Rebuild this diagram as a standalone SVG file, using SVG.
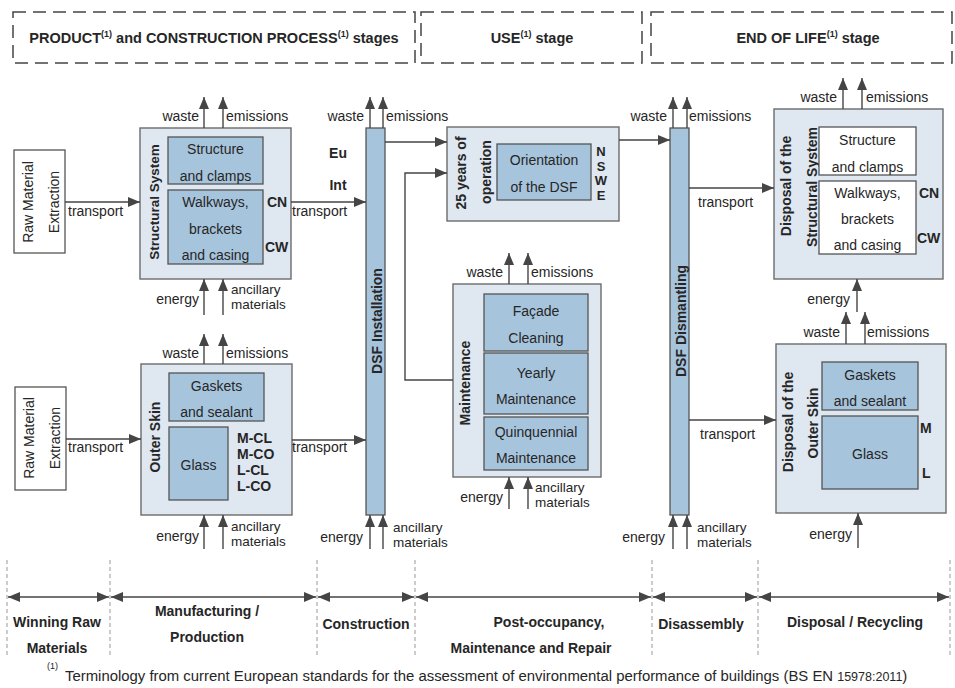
<svg xmlns="http://www.w3.org/2000/svg" width="955" height="688" viewBox="0 0 955 688">
<defs>
<style>
.t{font-family:"Liberation Sans",Arial,sans-serif;font-size:14px;fill:#262626}
.b{font-weight:bold}
.c{text-anchor:middle}
.e{text-anchor:end}
.s{font-size:13.5px}
.sup{font-size:9px}
.h{font-size:14.5px}
.ob{fill:#dfe7f1;stroke:#6b6b6b;stroke-width:1.4}
.ib{fill:#a7c4dd;stroke:#555;stroke-width:1.3}
.wb{fill:#fff;stroke:#555;stroke-width:1.3}
.ln{stroke:#454545;stroke-width:1.4;fill:none}
.ar{marker-end:url(#ah)}
.da{marker-start:url(#ah);marker-end:url(#ah)}
.hd{fill:none;stroke:#444;stroke-width:1.5;stroke-dasharray:13 7}
.vd{stroke:#999;stroke-width:1;stroke-dasharray:4 3}
</style>
<marker id="ah" viewBox="0 0 12 10" refX="12" refY="5" markerWidth="12" markerHeight="10" markerUnits="userSpaceOnUse" orient="auto-start-reverse">
<path d="M0,0 L12,5 L0,10 z" fill="#454545"/>
</marker>
</defs>
<rect width="955" height="688" fill="#fff"/>

<g id="headers">
<rect class="hd" x="13" y="12" width="402" height="51"/>
<rect class="hd" x="421" y="12" width="221" height="51"/>
<rect class="hd" x="651" y="12" width="301" height="51"/>
<text class="t b c h" x="214" y="43">PRODUCT<tspan class="sup" dy="-6">(1)</tspan><tspan dy="6"> and CONSTRUCTION PROCESS</tspan><tspan class="sup" dy="-6">(1)</tspan><tspan dy="6"> stages</tspan></text>
<text class="t b c h" x="532" y="43">USE<tspan class="sup" dy="-6">(1)</tspan><tspan dy="6"> stage</tspan></text>
<text class="t b c h" x="808" y="43">END OF LIFE<tspan class="sup" dy="-6">(1)</tspan><tspan dy="6"> stage</tspan></text>
</g>

<g id="raw1">
<rect x="14" y="150" width="51" height="103" fill="#fff" stroke="#555" stroke-width="1.3"/>
<text class="t c" transform="translate(33,202) rotate(-90)">Raw Material</text>
<text class="t c" transform="translate(59,202) rotate(-90)">Extraction</text>
</g>

<g id="raw2">
<rect x="15" y="387" width="51" height="103" fill="#fff" stroke="#555" stroke-width="1.3"/>
<text class="t c" transform="translate(34,438) rotate(-90)">Raw Material</text>
<text class="t c" transform="translate(60,438) rotate(-90)">Extraction</text>
</g>

<g id="structural-system">
<rect class="ob" x="140" y="128" width="151" height="151"/>
<text class="t b c" style="font-size:13.5px" transform="translate(159,202) rotate(-90)">Structural System</text>
<rect class="ib" x="168" y="137" width="95" height="47"/>
<text class="t c" x="215.5" y="154">Structure</text>
<text class="t c" x="215.5" y="181">and clamps</text>
<rect class="ib" x="168" y="190" width="95" height="74"/>
<text class="t c" x="215.5" y="207">Walkways,</text>
<text class="t c" x="215.5" y="234">brackets</text>
<text class="t c" x="215.5" y="260">and casing</text>
<text class="t b" x="267" y="207">CN</text>
<text class="t b" x="265" y="252">CW</text>
</g>

<g id="outer-skin">
<rect class="ob" x="141" y="364" width="151" height="151"/>
<text class="t b c" transform="translate(160,437) rotate(-90)">Outer Skin</text>
<rect class="ib" x="169" y="373" width="95" height="48"/>
<text class="t c" x="216.5" y="391">Gaskets</text>
<text class="t c" x="216.5" y="417">and sealant</text>
<rect class="ib" x="169" y="427" width="59" height="73"/>
<text class="t c" x="198.5" y="470">Glass</text>
<text class="t b" x="237" y="443">M-CL</text>
<text class="t b" x="237" y="459">M-CO</text>
<text class="t b" x="237" y="475">L-CL</text>
<text class="t b" x="237" y="491">L-CO</text>
</g>

<g id="dsf-installation">
<rect class="ib" x="366" y="128" width="19" height="387"/>
<text class="t b c" transform="translate(382,321) rotate(-90)">DSF Installation</text>
<text class="t b c" x="338" y="158">Eu</text>
<text class="t b c" x="338" y="190">Int</text>
</g>

<g id="operation">
<rect class="ob" x="447" y="127" width="172" height="94"/>
<text class="t b c" transform="translate(466,173) rotate(-90)">25 years of</text>
<text class="t b c" transform="translate(491,172) rotate(-90)">operation</text>
<rect class="ib" x="497" y="144" width="94" height="56"/>
<text class="t c" x="544" y="165">Orientation</text>
<text class="t c" x="544" y="192">of the DSF</text>
<text class="t b c" style="font-size:13px" x="601" y="156">N</text>
<text class="t b c" style="font-size:13px" x="601" y="170.5">S</text>
<text class="t b c" style="font-size:13px" x="601" y="185">W</text>
<text class="t b c" style="font-size:13px" x="601" y="199.5">E</text>
</g>

<g id="maintenance">
<rect class="ob" x="453" y="284" width="148" height="193"/>
<text class="t b c" transform="translate(470,383) rotate(-90)">Maintenance</text>
<rect class="ib" x="484" y="294" width="104" height="57"/>
<text class="t c" x="536" y="316">Façade</text>
<text class="t c" x="536" y="343">Cleaning</text>
<rect class="ib" x="484" y="353" width="104" height="61"/>
<text class="t c" x="536" y="378">Yearly</text>
<text class="t c" x="536" y="404">Maintenance</text>
<rect class="ib" x="484" y="417" width="104" height="53"/>
<text class="t c" x="536" y="437">Quinquennial</text>
<text class="t c" x="536" y="463">Maintenance</text>
</g>

<g id="dsf-dismantling">
<rect class="ib" x="670" y="128" width="19" height="387"/>
<text class="t b c" transform="translate(686,321) rotate(-90)">DSF Dismantling</text>
</g>

<g id="disposal-structural">
<rect class="ob" x="774" y="109" width="169" height="170"/>
<text class="t b c" transform="translate(791,186) rotate(-90)">Disposal of the</text>
<text class="t b c" transform="translate(817,187) rotate(-90)">Structural System</text>
<rect class="wb" x="819" y="127" width="97" height="48"/>
<text class="t c" x="867.5" y="145">Structure</text>
<text class="t c" x="867.5" y="172">and clamps</text>
<rect class="wb" x="819" y="181" width="97" height="73"/>
<text class="t c" x="867.5" y="198">Walkways,</text>
<text class="t c" x="867.5" y="224">brackets</text>
<text class="t c" x="867.5" y="250">and casing</text>
<text class="t b" x="919" y="198">CN</text>
<text class="t b" x="917" y="243">CW</text>
</g>

<g id="disposal-skin">
<rect class="ob" x="776" y="344" width="170" height="169"/>
<text class="t b c" transform="translate(793,422) rotate(-90)">Disposal of the</text>
<text class="t b c" transform="translate(818,423) rotate(-90)">Outer Skin</text>
<rect class="ib" x="822" y="362" width="96" height="48"/>
<text class="t c" x="870" y="380">Gaskets</text>
<text class="t c" x="870" y="406">and sealant</text>
<rect class="ib" x="822" y="416" width="96" height="73"/>
<text class="t c" x="870" y="459">Glass</text>
<text class="t b" x="920" y="433">M</text>
<text class="t b" x="922" y="478">L</text>
</g>

<g id="connectors">
<line class="ln ar" x1="65" y1="202" x2="140" y2="202"/>
<text class="t" x="68" y="216">transport</text>
<line class="ln ar" x1="66" y1="439" x2="141" y2="439"/>
<text class="t" x="68" y="452">transport</text>
<line class="ln ar" x1="291" y1="202" x2="366" y2="202"/>
<text class="t" x="292" y="216">transport</text>
<line class="ln ar" x1="292" y1="440" x2="366" y2="440"/>
<text class="t" x="292" y="452">transport</text>
<line class="ln ar" x1="385" y1="142" x2="447" y2="142"/>
<polyline class="ln ar" points="453,380 405,380 405,173 447,173"/>
<line class="ln ar" x1="619" y1="140" x2="670" y2="140"/>
<line class="ln ar" x1="689" y1="188" x2="774" y2="188"/>
<text class="t" x="698" y="207">transport</text>
<line class="ln ar" x1="689" y1="420" x2="776" y2="420"/>
<text class="t" x="700" y="439">transport</text>

<line class="ln ar" x1="204" y1="128" x2="204" y2="97"/>
<line class="ln ar" x1="223" y1="128" x2="223" y2="97"/>
<text class="t e" x="199" y="121">waste</text>
<text class="t" x="226" y="121">emissions</text>
<line class="ln ar" x1="204" y1="315" x2="204" y2="279"/>
<line class="ln ar" x1="223" y1="315" x2="223" y2="279"/>
<text class="t e" x="199" y="304">energy</text>
<text class="t s" x="231" y="294">ancillary</text>
<text class="t s" x="231" y="309">materials</text>

<line class="ln ar" x1="204" y1="364" x2="204" y2="334"/>
<line class="ln ar" x1="223" y1="364" x2="223" y2="334"/>
<text class="t e" x="199" y="358">waste</text>
<text class="t" x="226" y="358">emissions</text>
<line class="ln ar" x1="204" y1="549" x2="204" y2="515"/>
<line class="ln ar" x1="223" y1="549" x2="223" y2="515"/>
<text class="t e" x="199" y="541">energy</text>
<text class="t s" x="231" y="531">ancillary</text>
<text class="t s" x="231" y="546">materials</text>

<line class="ln ar" x1="370" y1="128" x2="370" y2="97"/>
<line class="ln ar" x1="383" y1="128" x2="383" y2="97"/>
<text class="t e" x="364" y="121">waste</text>
<text class="t" x="386" y="121">emissions</text>
<line class="ln ar" x1="370" y1="549" x2="370" y2="515"/>
<line class="ln ar" x1="383" y1="549" x2="383" y2="515"/>
<text class="t e" x="363" y="542">energy</text>
<text class="t s" x="393" y="532">ancillary</text>
<text class="t s" x="393" y="547">materials</text>

<line class="ln ar" x1="509" y1="284" x2="509" y2="253"/>
<line class="ln ar" x1="528" y1="284" x2="528" y2="253"/>
<text class="t e" x="503" y="277">waste</text>
<text class="t" x="531" y="277">emissions</text>
<line class="ln ar" x1="509" y1="509" x2="509" y2="477"/>
<line class="ln ar" x1="528" y1="509" x2="528" y2="477"/>
<text class="t e" x="503" y="502">energy</text>
<text class="t s" x="535" y="492">ancillary</text>
<text class="t s" x="535" y="507">materials</text>

<line class="ln ar" x1="673" y1="128" x2="673" y2="97"/>
<line class="ln ar" x1="687" y1="128" x2="687" y2="97"/>
<text class="t e" x="667" y="121">waste</text>
<text class="t" x="689" y="121">emissions</text>
<line class="ln ar" x1="673" y1="549" x2="673" y2="515"/>
<line class="ln ar" x1="687" y1="549" x2="687" y2="515"/>
<text class="t e" x="665" y="542">energy</text>
<text class="t s" x="697" y="532">ancillary</text>
<text class="t s" x="697" y="547">materials</text>

<line class="ln ar" x1="843" y1="109" x2="843" y2="78"/>
<line class="ln ar" x1="862" y1="109" x2="862" y2="78"/>
<text class="t e" x="837" y="102">waste</text>
<text class="t" x="866" y="102">emissions</text>
<line class="ln ar" x1="857" y1="312" x2="857" y2="279"/>
<text class="t e" x="850" y="304">energy</text>

<line class="ln ar" x1="846" y1="344" x2="846" y2="312"/>
<line class="ln ar" x1="865" y1="344" x2="865" y2="312"/>
<text class="t e" x="840" y="337">waste</text>
<text class="t" x="867" y="337">emissions</text>
<line class="ln ar" x1="858" y1="548" x2="858" y2="513"/>
<text class="t e" x="852" y="539">energy</text>
</g>

<g id="timeline">
<line class="vd" x1="7" y1="560" x2="7" y2="658"/>
<line class="vd" x1="110" y1="560" x2="110" y2="658"/>
<line class="vd" x1="317" y1="560" x2="317" y2="658"/>
<line class="vd" x1="415" y1="560" x2="415" y2="658"/>
<line class="vd" x1="652" y1="560" x2="652" y2="658"/>
<line class="vd" x1="758" y1="560" x2="758" y2="658"/>
<line class="vd" x1="950" y1="560" x2="950" y2="658"/>
<line class="ln da" x1="8" y1="597" x2="109" y2="597"/>
<line class="ln da" x1="111" y1="597" x2="316" y2="597"/>
<line class="ln da" x1="318" y1="597" x2="414" y2="597"/>
<line class="ln da" x1="416" y1="597" x2="651" y2="597"/>
<line class="ln da" x1="653" y1="597" x2="757" y2="597"/>
<line class="ln da" x1="759" y1="597" x2="949" y2="597"/>
<text class="t b c" x="57" y="627">Winning Raw</text>
<text class="t b c" x="57" y="653">Materials</text>
<text class="t b c" x="207" y="616">Manufacturing /</text>
<text class="t b c" x="207" y="642">Production</text>
<text class="t b c" x="366" y="629">Construction</text>
<text class="t b c" x="549" y="627">Post-occupancy,</text>
<text class="t b c" x="531" y="653">Maintenance and Repair</text>
<text class="t b c" x="701" y="629">Disassembly</text>
<text class="t b c" x="855" y="627">Disposal / Recycling</text>
</g>

<g id="footnote">
<text class="t" x="47" y="669" style="font-size:9px">(1)</text>
<text class="t" x="65" y="681" style="font-size:14.9px">Terminology from current European standards for the assessment of environmental performance of buildings (BS EN <tspan style="font-size:12.5px">15978:2011</tspan>)</text>
</g>
</svg>
